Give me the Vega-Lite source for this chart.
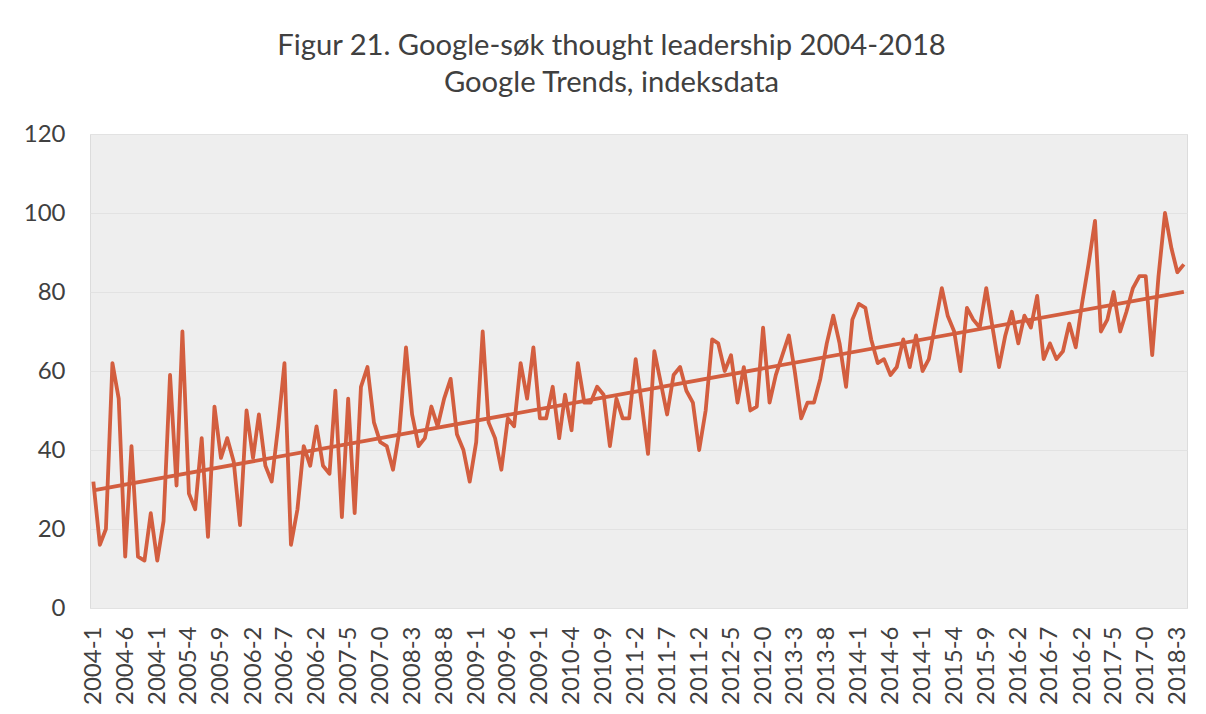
{
  "$schema": "https://vega.github.io/schema/vega-lite/v6.json",
  "width": 1097,
  "height": 474,
  "autosize": "none",
  "padding": {"left": 90, "top": 134, "right": 19, "bottom": 106},
  "background": "white",
  "title": {
    "text": ["Figur 21. Google-søk thought leadership 2004-2018", "Google Trends, indeksdata"],
    "font": "Lato",
    "fontSize": 29.2,
    "fontWeight": "normal",
    "color": "#404040",
    "anchor": "middle",
    "dx": -27,
    "offset": 24,
    "lineHeight": 37
  },
  "config": {
    "view": {"fill": "#eeeeee", "stroke": "#dcdcdc", "strokeWidth": 1},
    "axis": {"labelFont": "Lato", "labelColor": "#404040", "labelFontSize": 24, "ticks": false}
  },
  "data": {
    "values": [
      {"month": "2004-01", "value": 32}, {"month": "2004-02", "value": 16}, {"month": "2004-03", "value": 20}, {"month": "2004-04", "value": 62},
      {"month": "2004-05", "value": 53}, {"month": "2004-06", "value": 13}, {"month": "2004-07", "value": 41}, {"month": "2004-08", "value": 13},
      {"month": "2004-09", "value": 12}, {"month": "2004-10", "value": 24}, {"month": "2004-11", "value": 12}, {"month": "2004-12", "value": 22},
      {"month": "2005-01", "value": 59}, {"month": "2005-02", "value": 31}, {"month": "2005-03", "value": 70}, {"month": "2005-04", "value": 29},
      {"month": "2005-05", "value": 25}, {"month": "2005-06", "value": 43}, {"month": "2005-07", "value": 18}, {"month": "2005-08", "value": 51},
      {"month": "2005-09", "value": 38}, {"month": "2005-10", "value": 43}, {"month": "2005-11", "value": 37}, {"month": "2005-12", "value": 21},
      {"month": "2006-01", "value": 50}, {"month": "2006-02", "value": 38}, {"month": "2006-03", "value": 49}, {"month": "2006-04", "value": 36},
      {"month": "2006-05", "value": 32}, {"month": "2006-06", "value": 46}, {"month": "2006-07", "value": 62}, {"month": "2006-08", "value": 16},
      {"month": "2006-09", "value": 25}, {"month": "2006-10", "value": 41}, {"month": "2006-11", "value": 36}, {"month": "2006-12", "value": 46},
      {"month": "2007-01", "value": 36}, {"month": "2007-02", "value": 34}, {"month": "2007-03", "value": 55}, {"month": "2007-04", "value": 23},
      {"month": "2007-05", "value": 53}, {"month": "2007-06", "value": 24}, {"month": "2007-07", "value": 56}, {"month": "2007-08", "value": 61},
      {"month": "2007-09", "value": 47}, {"month": "2007-10", "value": 42}, {"month": "2007-11", "value": 41}, {"month": "2007-12", "value": 35},
      {"month": "2008-01", "value": 45}, {"month": "2008-02", "value": 66}, {"month": "2008-03", "value": 49}, {"month": "2008-04", "value": 41},
      {"month": "2008-05", "value": 43}, {"month": "2008-06", "value": 51}, {"month": "2008-07", "value": 46}, {"month": "2008-08", "value": 53},
      {"month": "2008-09", "value": 58}, {"month": "2008-10", "value": 44}, {"month": "2008-11", "value": 40}, {"month": "2008-12", "value": 32},
      {"month": "2009-01", "value": 42}, {"month": "2009-02", "value": 70}, {"month": "2009-03", "value": 47}, {"month": "2009-04", "value": 43},
      {"month": "2009-05", "value": 35}, {"month": "2009-06", "value": 48}, {"month": "2009-07", "value": 46}, {"month": "2009-08", "value": 62},
      {"month": "2009-09", "value": 53}, {"month": "2009-10", "value": 66}, {"month": "2009-11", "value": 48}, {"month": "2009-12", "value": 48},
      {"month": "2010-01", "value": 56}, {"month": "2010-02", "value": 43}, {"month": "2010-03", "value": 54}, {"month": "2010-04", "value": 45},
      {"month": "2010-05", "value": 62}, {"month": "2010-06", "value": 52}, {"month": "2010-07", "value": 52}, {"month": "2010-08", "value": 56},
      {"month": "2010-09", "value": 54}, {"month": "2010-10", "value": 41}, {"month": "2010-11", "value": 53}, {"month": "2010-12", "value": 48},
      {"month": "2011-01", "value": 48}, {"month": "2011-02", "value": 63}, {"month": "2011-03", "value": 52}, {"month": "2011-04", "value": 39},
      {"month": "2011-05", "value": 65}, {"month": "2011-06", "value": 57}, {"month": "2011-07", "value": 49}, {"month": "2011-08", "value": 59},
      {"month": "2011-09", "value": 61}, {"month": "2011-10", "value": 55}, {"month": "2011-11", "value": 52}, {"month": "2011-12", "value": 40},
      {"month": "2012-01", "value": 50}, {"month": "2012-02", "value": 68}, {"month": "2012-03", "value": 67}, {"month": "2012-04", "value": 60},
      {"month": "2012-05", "value": 64}, {"month": "2012-06", "value": 52}, {"month": "2012-07", "value": 61}, {"month": "2012-08", "value": 50},
      {"month": "2012-09", "value": 51}, {"month": "2012-10", "value": 71}, {"month": "2012-11", "value": 52}, {"month": "2012-12", "value": 59},
      {"month": "2013-01", "value": 64}, {"month": "2013-02", "value": 69}, {"month": "2013-03", "value": 60}, {"month": "2013-04", "value": 48},
      {"month": "2013-05", "value": 52}, {"month": "2013-06", "value": 52}, {"month": "2013-07", "value": 58}, {"month": "2013-08", "value": 67},
      {"month": "2013-09", "value": 74}, {"month": "2013-10", "value": 67}, {"month": "2013-11", "value": 56}, {"month": "2013-12", "value": 73},
      {"month": "2014-01", "value": 77}, {"month": "2014-02", "value": 76}, {"month": "2014-03", "value": 68}, {"month": "2014-04", "value": 62},
      {"month": "2014-05", "value": 63}, {"month": "2014-06", "value": 59}, {"month": "2014-07", "value": 61}, {"month": "2014-08", "value": 68},
      {"month": "2014-09", "value": 61}, {"month": "2014-10", "value": 69}, {"month": "2014-11", "value": 60}, {"month": "2014-12", "value": 63},
      {"month": "2015-01", "value": 72}, {"month": "2015-02", "value": 81}, {"month": "2015-03", "value": 74}, {"month": "2015-04", "value": 70},
      {"month": "2015-05", "value": 60}, {"month": "2015-06", "value": 76}, {"month": "2015-07", "value": 73}, {"month": "2015-08", "value": 71},
      {"month": "2015-09", "value": 81}, {"month": "2015-10", "value": 71}, {"month": "2015-11", "value": 61}, {"month": "2015-12", "value": 69},
      {"month": "2016-01", "value": 75}, {"month": "2016-02", "value": 67}, {"month": "2016-03", "value": 74}, {"month": "2016-04", "value": 71},
      {"month": "2016-05", "value": 79}, {"month": "2016-06", "value": 63}, {"month": "2016-07", "value": 67}, {"month": "2016-08", "value": 63},
      {"month": "2016-09", "value": 65}, {"month": "2016-10", "value": 72}, {"month": "2016-11", "value": 66}, {"month": "2016-12", "value": 77},
      {"month": "2017-01", "value": 87}, {"month": "2017-02", "value": 98}, {"month": "2017-03", "value": 70}, {"month": "2017-04", "value": 73},
      {"month": "2017-05", "value": 80}, {"month": "2017-06", "value": 70}, {"month": "2017-07", "value": 75}, {"month": "2017-08", "value": 81},
      {"month": "2017-09", "value": 84}, {"month": "2017-10", "value": 84}, {"month": "2017-11", "value": 64}, {"month": "2017-12", "value": 84},
      {"month": "2018-01", "value": 100}, {"month": "2018-02", "value": 91}, {"month": "2018-03", "value": 85}, {"month": "2018-04", "value": 87}
    ]
  },
  "encoding": {
    "x": {
      "field": "month",
      "type": "temporal",
      "title": null,
      "scale": {
        "type": "utc",
        "domain": [{"year": 2003, "month": 12, "date": 16, "utc": true}, {"year": 2018, "month": 4, "date": 16, "utc": true}]
      },
      "axis": {
        "values": [
          {"year": 2004, "month": 1, "date": 1, "utc": true}, {"year": 2004, "month": 6, "date": 1, "utc": true},
          {"year": 2004, "month": 11, "date": 1, "utc": true}, {"year": 2005, "month": 4, "date": 1, "utc": true},
          {"year": 2005, "month": 9, "date": 1, "utc": true}, {"year": 2006, "month": 2, "date": 1, "utc": true},
          {"year": 2006, "month": 7, "date": 1, "utc": true}, {"year": 2006, "month": 12, "date": 1, "utc": true},
          {"year": 2007, "month": 5, "date": 1, "utc": true}, {"year": 2007, "month": 10, "date": 1, "utc": true},
          {"year": 2008, "month": 3, "date": 1, "utc": true}, {"year": 2008, "month": 8, "date": 1, "utc": true},
          {"year": 2009, "month": 1, "date": 1, "utc": true}, {"year": 2009, "month": 6, "date": 1, "utc": true},
          {"year": 2009, "month": 11, "date": 1, "utc": true}, {"year": 2010, "month": 4, "date": 1, "utc": true},
          {"year": 2010, "month": 9, "date": 1, "utc": true}, {"year": 2011, "month": 2, "date": 1, "utc": true},
          {"year": 2011, "month": 7, "date": 1, "utc": true}, {"year": 2011, "month": 12, "date": 1, "utc": true},
          {"year": 2012, "month": 5, "date": 1, "utc": true}, {"year": 2012, "month": 10, "date": 1, "utc": true},
          {"year": 2013, "month": 3, "date": 1, "utc": true}, {"year": 2013, "month": 8, "date": 1, "utc": true},
          {"year": 2014, "month": 1, "date": 1, "utc": true}, {"year": 2014, "month": 6, "date": 1, "utc": true},
          {"year": 2014, "month": 11, "date": 1, "utc": true}, {"year": 2015, "month": 4, "date": 1, "utc": true},
          {"year": 2015, "month": 9, "date": 1, "utc": true}, {"year": 2016, "month": 2, "date": 1, "utc": true},
          {"year": 2016, "month": 7, "date": 1, "utc": true}, {"year": 2016, "month": 12, "date": 1, "utc": true},
          {"year": 2017, "month": 5, "date": 1, "utc": true}, {"year": 2017, "month": 10, "date": 1, "utc": true},
          {"year": 2018, "month": 3, "date": 1, "utc": true}
        ],
        "labelExpr": "utcFormat(datum.value, '%Y') + '-' + ((utcmonth(datum.value) + 1) % 10)",
        "labelAngle": -90,
        "labelPadding": 18,
        "labelOverlap": false,
        "grid": false,
        "domain": false
      }
    },
    "y": {
      "field": "value",
      "type": "quantitative",
      "title": null,
      "scale": {"domain": [0, 120], "nice": false, "zero": true},
      "axis": {
        "values": [0, 20, 40, 60, 80, 100, 120],
        "grid": true,
        "gridColor": "#e2e2e2",
        "gridWidth": 1,
        "domain": false,
        "labelPadding": 25
      }
    }
  },
  "layer": [
    {
      "mark": {"type": "line", "color": "#D35E3F", "strokeWidth": 3.8, "strokeJoin": "round", "clip": true}
    },
    {
      "transform": [{"regression": "value", "on": "month"}],
      "mark": {"type": "line", "color": "#D35E3F", "strokeWidth": 3.8, "clip": true}
    }
  ]
}
